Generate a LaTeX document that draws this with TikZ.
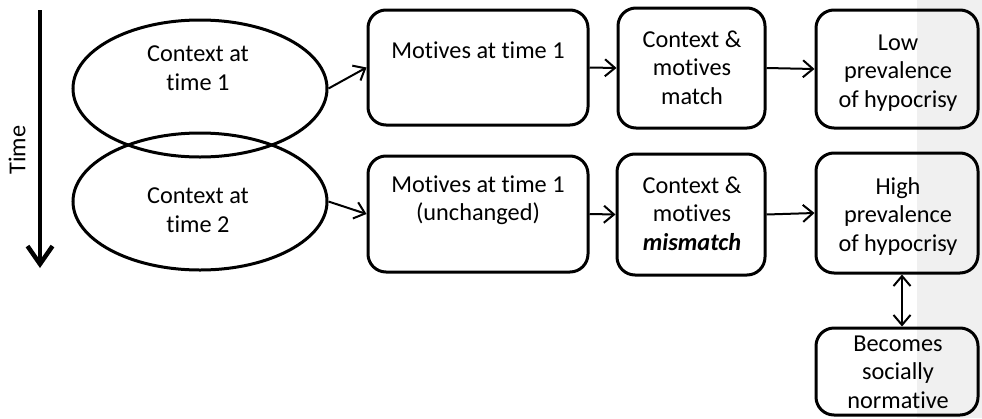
\documentclass[tikz,border=0pt]{standalone}
\usepackage{fontspec}
\setmainfont{Carlito}[Ligatures=NoCommon]
\usetikzlibrary{shapes.geometric,arrows.meta}

\definecolor{stripegray}{RGB}{240,240,240}

\tikzset{
  lbl/.style={font=\fontsize{24.3}{28.5}\selectfont, align=center, anchor=base, inner sep=0pt},
  stepbox/.style={draw, line width=3pt, rounded corners=18pt, inner sep=0pt},
  ctxellipse/.style={draw, ellipse, line width=3pt, inner sep=0pt,
    minimum width=254pt, minimum height=137pt},
  flow/.style={line width=2pt, -{Straight Barb[length=10pt,width=17pt]}},
  both/.style={line width=2pt, {Straight Barb[length=10pt,width=17pt]}-{Straight Barb[length=10pt,width=17pt]}},
}

\begin{document}
\begin{tikzpicture}[x=1pt,y=-1pt]
  \useasboundingbox (0,0) rectangle (982,418);

  % shaded band along the right edge
  \fill[stripegray] (917,0) rectangle (982,418);

  % time axis
  \coordinate (tstart) at (40,10);
  \coordinate (tend) at (40,268);
  \draw[line width=4.5pt, -{Straight Barb[length=18pt,width=25pt]}] (tstart) -- (tend);
  \node[font=\fontsize{24.3}{28.5}\selectfont, rotate=90] (timelbl) at (17,150) {Time};

  % contexts (label anchors sit on the last baseline)
  \node[ctxellipse] (e1) at (200,88.5) {};
  \node[ctxellipse] (e2) at (200,201.5) {};
  \node[lbl] (e1t) at (198,90) {Context at\\time 1};
  \node[lbl] (e2t) at (198,232) {Context at\\time 2};

  % motives
  \node[stepbox, minimum width=220pt, minimum height=115pt] (m1) at (478,67.5) {};
  \node[stepbox, minimum width=220pt, minimum height=116pt] (m2) at (478,214) {};
  \node[lbl] (m1t) at (478,58) {Motives at time 1};
  \node[lbl] (m2t) at (478,220.5) {Motives at time 1\\(unchanged)};

  % comparison
  \node[stepbox, minimum width=147pt, minimum height=120pt] (c1) at (691.5,68) {};
  \node[stepbox, minimum width=148pt, minimum height=121pt] (c2) at (691,214.5) {};
  \node[lbl] (c1t) at (692,104) {Context \&\\motives\\match};
  \node[lbl] (c2t) at (692,250) {Context \&\\motives\\\textbf{\textit{mismatch}}};

  % outcomes
  \node[stepbox, minimum width=162pt, minimum height=118pt] (low) at (897,69) {};
  \node[stepbox, minimum width=162pt, minimum height=120pt] (high) at (897,213) {};
  \node[stepbox, minimum width=162pt, minimum height=87pt] (norm) at (897,371.5) {};
  \node[lbl] (lowt) at (898,107) {Low\\prevalence\\of hypocrisy};
  \node[lbl] (hight) at (898,251) {High\\prevalence\\of hypocrisy};
  \node[lbl] (normt) at (898,408) {Becomes\\socially\\normative};

  % connectors
  \draw[flow] (e1.east) -- (m1.west);
  \draw[flow] (e2.east) -- (m2.west);
  \draw[flow] (m1.east) -- (c1.west);
  \draw[flow] (m2.east) -- (c2.west);
  \draw[flow] (c1.east) -- (low.west);
  \draw[flow] (c2.east) -- (high.west);
  \draw[both] ([xshift=5pt]high.south) -- ([xshift=5pt]norm.north);
\end{tikzpicture}
\end{document}
